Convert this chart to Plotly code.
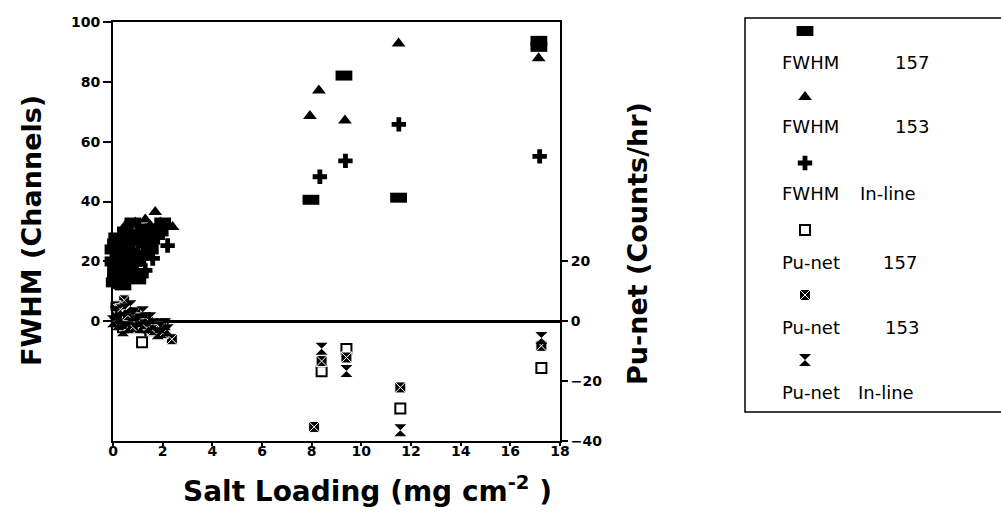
import plotly.graph_objects as go

W, H = 1001, 513

# ---------------- data ----------------
# FWHM series (left axis, channels) vs salt loading (mg cm-2)
fwhm157_x = [0.05, 0.1, 0.2, 0.3, 0.35, 0.5, 0.6, 0.75, 0.9, 1.0, 1.2, 1.4, 0.4, 0.15, 1.1,
             0.0, 0.0, 0.1, 0.5, 0.8, 1.3, 1.6, 1.9, 2.0, 0.7, 1.0, 0.3, 1.3, 1.5, 0.6,
             7.97, 9.3, 11.5, 17.15, 17.15]
fwhm157_y = [13, 17, 21, 25, 15, 19, 27, 23, 29, 20, 31, 26, 12, 28, 16,
             20, 24, 26, 30, 33, 28, 31, 30, 33, 17, 14, 12.5, 22, 24, 22,
             40.6, 82.1, 41.3, 93.7, 91.7]

fwhm153_x = [0.3, 0.5, 0.7, 0.9, 1.1, 1.3, 1.5, 1.7, 1.9, 2.1, 2.4, 0.2, 0.6, 1.0, 1.2, 1.6,
             7.93, 8.29, 9.34, 11.5, 17.14]
fwhm153_y = [29, 32, 30, 33, 31, 34, 32, 36.5, 33, 32, 31.5, 24, 26, 28, 22, 29,
             68.6, 77.1, 67.1, 92.8, 87.9]

fwhm_inline_x = [0.1, 0.25, 0.4, 0.6, 0.8, 1.0, 1.2, 1.4, 1.6, 1.8, 2.2, 0.05, 0.5, 0.9, 1.3,
                 8.33, 9.36, 11.51, 17.18]
fwhm_inline_y = [18, 22, 20, 24, 26, 23, 27, 24, 21, 28, 25.3, 15, 16, 19, 17,
                 48.3, 53.6, 65.8, 55.1]

# Pu-net series (right axis, counts/hr)
punet157_x = [0.15, 0.4, 0.7, 1.17, 1.5, 2.0, 8.4, 9.4, 11.57, 17.25]
punet157_y = [0, -2, 1, -7, -3, -1, -16.7, -9.3, -29.1, -15.6]

punet153_x = [0.2, 0.45, 0.5, 0.9, 1.4, 1.8, 2.37, 0.1, 0.3, 0.6, 1.0, 1.2, 1.6, 2.0, 0.8,
              8.1, 8.4, 9.4, 11.57, 17.25]
punet153_y = [2, 7, -1, 3, 0, -2, -6, 5, 4, 2, 1, -1, -3, -4, -2,
              -35.3, -13.3, -12.1, -22.1, -8.2]

punet_inline_x = [0.1, 0.3, 0.5, 0.8, 1.0, 1.3, 1.6, 1.9, 2.2, 0.2, 0.6, 1.1,
                  0.0, 0.4, 0.7, 1.2, 1.5, 1.8, 2.1, 1.4,
                  8.4, 9.4, 11.57, 17.25]
punet_inline_y = [3, 1, 4, 2, 0, 1, -1, -2, -3, -1, -2, -2,
                  0, -3, 5, 3, 1, -4, -1, -2,
                  -9.2, -16.6, -36.4, -5.6]

x_ticks = [0, 2, 4, 6, 8, 10, 12, 14, 16, 18]
left_ticks = [0, 20, 40, 60, 80, 100]
right_ticks = [-40, -20, 0, 20]

legend_names = [("FWHM", "157"), ("FWHM", "153"), ("FWHM", "In-line"),
                ("Pu-net", "157"), ("Pu-net", "153"), ("Pu-net", "In-line")]

# ---------------- styles ----------------
BLACK = "black"
markers = [
    dict(symbol="line-ew", size=12, color=BLACK, line=dict(color=BLACK, width=10)),
    dict(symbol="triangle-up", size=12, color=BLACK, line=dict(width=0)),
    dict(symbol="cross", size=12, color=BLACK, line=dict(width=0)),
    dict(symbol="square-open", size=10, color=BLACK, line=dict(color=BLACK, width=2)),
    dict(symbol="square-x", size=11, color=BLACK, line=dict(color="white", width=1)),
    dict(symbol="hourglass", size=12, color=BLACK, line=dict(width=0)),
]

series = [
    (fwhm157_x, fwhm157_y, "y"),
    (fwhm153_x, fwhm153_y, "y"),
    (fwhm_inline_x, fwhm_inline_y, "y"),
    (punet157_x, punet157_y, "y2"),
    (punet153_x, punet153_y, "y2"),
    (punet_inline_x, punet_inline_y, "y2"),
]

# layout geometry (pixels)
PL, PR, PT, PB = 113, 560, 22, 441
def fx(p):
    return p / W
def fy(p):
    return 1 - p / H

fig = go.Figure()
for (xs, ys, ax), mk, nm in zip(series, markers, legend_names):
    fig.add_trace(go.Scatter(x=xs, y=ys, mode="markers", marker=mk, yaxis=ax,
                             name=" ".join(nm), cliponaxis=False, showlegend=False))

# custom legend (symbol above text)
LEG_SYM_X = 805
leg_sym_y = [31, 97, 163, 230, 295, 360]
leg_txt_y = [62, 127, 193, 262, 327, 392]
leg_txt2_x = [893, 893, 858, 881, 883, 856]
for i, mk in enumerate(markers):
    fig.add_trace(go.Scatter(x=[LEG_SYM_X], y=[leg_sym_y[i]], mode="markers", marker=mk,
                             xaxis="x2", yaxis="y3", cliponaxis=False, showlegend=False,
                             hoverinfo="skip"))

TITLE_FONT = dict(family="DejaVu Sans", size=27, color=BLACK, weight="bold")
TICK_FONT = dict(family="DejaVu Sans", size=14, color=BLACK, weight="bold")
LEG_FONT = dict(family="DejaVu Sans", size=18, color=BLACK)

annotations = [
    dict(text="FWHM (Channels)", x=fx(32), y=fy(231), xref="paper", yref="paper",
         textangle=-90, showarrow=False, font=TITLE_FONT, xanchor="center", yanchor="middle"),
    dict(text="Pu-net (Counts/hr)", x=fx(637), y=fy(244), xref="paper", yref="paper",
         textangle=-90, showarrow=False, font=TITLE_FONT, xanchor="center", yanchor="middle"),
    dict(text="Salt Loading (mg cm<sup>-2</sup> )", x=fx(367), y=fy(489), xref="paper",
         yref="paper", showarrow=False, font=dict(TITLE_FONT, size=28),
         xanchor="center", yanchor="middle"),
]
for i, (a, b) in enumerate(legend_names):
    annotations.append(dict(text=a, x=fx(780), y=fy(leg_txt_y[i]), xref="paper", yref="paper",
                            showarrow=False, font=LEG_FONT, xanchor="left", yanchor="middle"))
    annotations.append(dict(text=b, x=fx(leg_txt2_x[i]), y=fy(leg_txt_y[i]), xref="paper",
                            yref="paper", showarrow=False, font=LEG_FONT,
                            xanchor="left", yanchor="middle"))

shapes = [dict(type="rect", xref="paper", yref="paper", x0=fx(745), x1=fx(1012),
               y0=fy(412), y1=fy(18), line=dict(color=BLACK, width=1.5), layer="above")]

fig.update_layout(
    width=W, height=H, autosize=False,
    margin=dict(l=0, r=0, t=0, b=0),
    paper_bgcolor="white", plot_bgcolor="rgba(0,0,0,0)",
    showlegend=False,
    xaxis=dict(domain=[fx(PL), fx(PR)], range=[0, 18], tickvals=x_ticks,
               ticks="outside", ticklen=3, tickwidth=1.5, tickcolor=BLACK,
               showline=True, linewidth=1.5, linecolor=BLACK, mirror=True,
               showgrid=False, zeroline=False, tickfont=TICK_FONT,
               ticklabelstandoff=-7, anchor="y", automargin=False),
    yaxis=dict(domain=[fy(PB), fy(PT)], range=[-40, 100], tickvals=left_ticks,
               ticks="outside", ticklen=8, tickwidth=1.5, tickcolor=BLACK,
               showline=True, linewidth=2, linecolor=BLACK,
               showgrid=False, zeroline=True, zerolinewidth=3, zerolinecolor=BLACK,
               tickfont=TICK_FONT, anchor="x", automargin=False),
    yaxis2=dict(overlaying="y", side="right", range=[-40, 100], tickvals=right_ticks,
                ticks="outside", ticklen=6, tickwidth=1.5, tickcolor=BLACK,
                showline=True, linewidth=2, linecolor=BLACK,
                showgrid=False, zeroline=False, tickfont=TICK_FONT, anchor="x",
                automargin=False),
    xaxis2=dict(domain=[0, 1], range=[0, W], visible=False, anchor="y3"),
    yaxis3=dict(domain=[0, 1], range=[H, 0], visible=False, anchor="x2"),
    annotations=annotations,
    shapes=shapes,
)

fig.write_html("out.html", config={"displayModeBar": False},
               post_script="document.body.style.margin='0';")
